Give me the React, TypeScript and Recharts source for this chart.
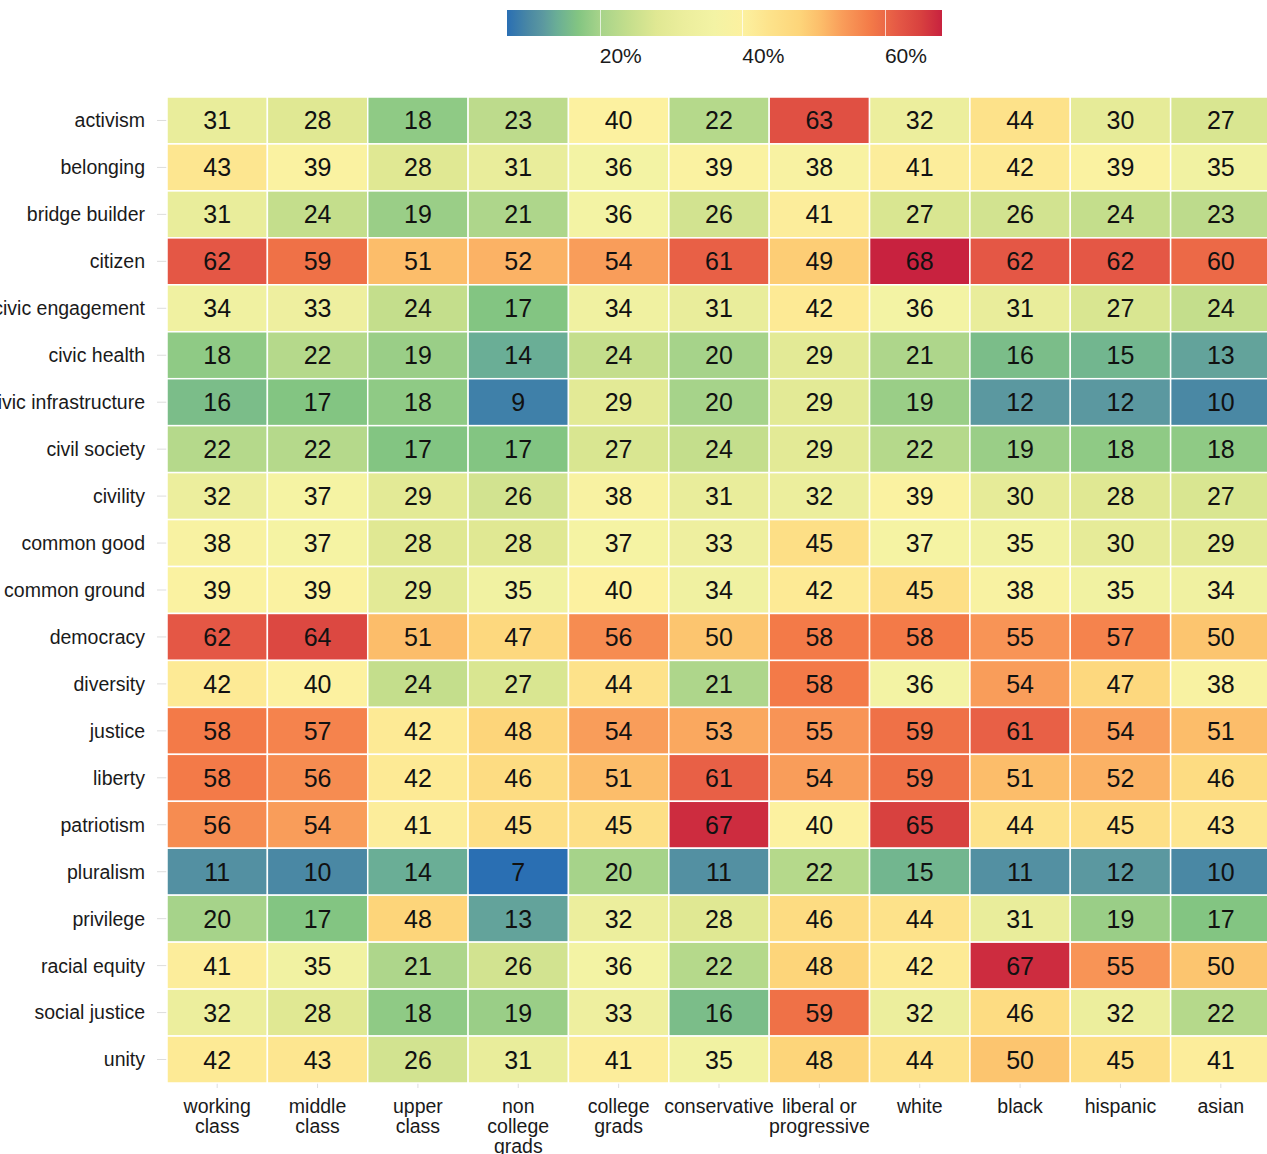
import React from "react";
import { ScatterChart, Scatter, XAxis, YAxis } from "recharts";

const terms = [
  "activism", "belonging", "bridge builder", "citizen", "civic engagement",
  "civic health", "civic infrastructure", "civil society", "civility",
  "common good", "common ground", "democracy", "diversity", "justice",
  "liberty", "patriotism", "pluralism", "privilege", "racial equity",
  "social justice", "unity",
];

const groups = [
  "working\nclass", "middle\nclass", "upper\nclass", "non\ncollege\ngrads",
  "college\ngrads", "conservative", "liberal or\nprogressive", "white",
  "black", "hispanic", "asian",
];

// percentage per term (row) and group (column)
const values = [
  [31, 28, 18, 23, 40, 22, 63, 32, 44, 30, 27],
  [43, 39, 28, 31, 36, 39, 38, 41, 42, 39, 35],
  [31, 24, 19, 21, 36, 26, 41, 27, 26, 24, 23],
  [62, 59, 51, 52, 54, 61, 49, 68, 62, 62, 60],
  [34, 33, 24, 17, 34, 31, 42, 36, 31, 27, 24],
  [18, 22, 19, 14, 24, 20, 29, 21, 16, 15, 13],
  [16, 17, 18, 9, 29, 20, 29, 19, 12, 12, 10],
  [22, 22, 17, 17, 27, 24, 29, 22, 19, 18, 18],
  [32, 37, 29, 26, 38, 31, 32, 39, 30, 28, 27],
  [38, 37, 28, 28, 37, 33, 45, 37, 35, 30, 29],
  [39, 39, 29, 35, 40, 34, 42, 45, 38, 35, 34],
  [62, 64, 51, 47, 56, 50, 58, 58, 55, 57, 50],
  [42, 40, 24, 27, 44, 21, 58, 36, 54, 47, 38],
  [58, 57, 42, 48, 54, 53, 55, 59, 61, 54, 51],
  [58, 56, 42, 46, 51, 61, 54, 59, 51, 52, 46],
  [56, 54, 41, 45, 45, 67, 40, 65, 44, 45, 43],
  [11, 10, 14, 7, 20, 11, 22, 15, 11, 12, 10],
  [20, 17, 48, 13, 32, 28, 46, 44, 31, 19, 17],
  [41, 35, 21, 26, 36, 22, 48, 42, 67, 55, 50],
  [32, 28, 18, 19, 33, 16, 59, 32, 46, 32, 22],
  [42, 43, 26, 31, 41, 35, 48, 44, 50, 45, 41],
];

const legendTicks = [20, 40, 60];
const MIN = 7;
const MAX = 68;

const STOPS: [number, string][] = [
  [7, "#2a6fb3"], [10, "#4a88a4"], [12, "#5b98a0"], [14, "#6aae96"],
  [17, "#83c582"], [20, "#a6d38a"], [24, "#c4de8c"], [28, "#e0e893"],
  [32, "#ecee9d"], [36, "#f3f3a4"], [40, "#fcf1a0"], [44, "#fde28a"],
  [48, "#fdd57a"], [51, "#fcbd6a"], [54, "#f99d5a"], [58, "#f37a48"],
  [62, "#e45745"], [65, "#d8413f"], [68, "#c8223f"],
];

const hex = (h: string) => [1, 3, 5].map((i) => parseInt(h.slice(i, i + 2), 16));

function colorFor(v: number) {
  for (let i = 1; i < STOPS.length; i++) {
    const [v1, c1] = STOPS[i];
    const [v0, c0] = STOPS[i - 1];
    if (v <= v1) {
      const t = (v - v0) / (v1 - v0);
      const a = hex(c0);
      const b = hex(c1);
      const c = a.map((x, k) => Math.round(x + (b[k] - x) * t));
      return `rgb(${c[0]},${c[1]},${c[2]})`;
    }
  }
  return STOPS[STOPS.length - 1][1];
}

const W = 1267;
const H = 1154;
const CHART_W = 1271; // last column runs past the page edge in the original
const LEFT = 167;
const TOP = 97;
const BOTTOM = 71;
const CELL_W = (CHART_W - LEFT) / groups.length;
const CELL_H = (H - TOP - BOTTOM) / terms.length;
const FONT = "'Liberation Sans', Arial, Helvetica, sans-serif";

const cells = values.flatMap((row, r) =>
  row.map((v, c) => ({ col: c + 0.5, row: r + 0.5, value: v }))
);

const HeatCell = (props: any) => {
  const { cx, cy, payload } = props;
  if (cx == null || cy == null) return null;
  return (
    <g>
      <rect
        x={cx - CELL_W / 2}
        y={cy - CELL_H / 2}
        width={CELL_W}
        height={CELL_H}
        fill={colorFor(payload.value)}
        stroke="#ffffff"
        strokeWidth={1.5}
      />
      <text
        x={cx}
        y={cy}
        textAnchor="middle"
        dominantBaseline="central"
        fontSize={25}
        fill="#111"
        fontFamily={FONT}
      >
        {payload.value}
      </text>
    </g>
  );
};

const GroupTick = (props: any) => {
  const { x, y, payload } = props;
  const lines = groups[Math.floor(payload.value)].split("\n");
  return (
    <text x={x} y={y + 23} textAnchor="middle" fontSize={19.5} fill="#1a1a1a" fontFamily={FONT}>
      {lines.map((l, i) => (
        <tspan key={i} x={x} dy={i === 0 ? 0 : 20}>
          {l}
        </tspan>
      ))}
    </text>
  );
};

const EmptyTick = () => <g />;

const colTicks = groups.map((_, i) => i + 0.5);
const rowTicks = terms.map((_, i) => i + 0.5);

function ColorBar() {
  const left = 507;
  const width = 435;
  const pos = (v: number) => ((v - MIN) / (MAX - MIN)) * 100;
  const gradient = STOPS.map(([v, c]) => `${c} ${pos(v)}%`).join(", ");
  return (
    <div style={{ position: "absolute", left, top: 10, width, height: 60, zIndex: 2 }}>
      <div
        style={{
          position: "absolute",
          left: 0,
          top: 0,
          width,
          height: 26,
          background: `linear-gradient(to right, ${gradient})`,
        }}
      />
      {legendTicks.map((t) => (
        <React.Fragment key={t}>
          <div
            style={{
              position: "absolute",
              left: (pos(t) / 100) * width,
              top: 0,
              width: 1,
              height: 26,
              background: "rgba(255,255,255,0.7)",
            }}
          />
          <div
            style={{
              position: "absolute",
              left: (pos(t) / 100) * width,
              top: 34,
              fontSize: 21,
              color: "#1a1a1a",
              fontFamily: FONT,
              lineHeight: "24px",
              whiteSpace: "nowrap",
            }}
          >
            {t}%
          </div>
        </React.Fragment>
      ))}
    </div>
  );
}

export default function App() {
  return (
    <div
      style={{
        position: "fixed",
        left: 0,
        top: 0,
        width: W,
        height: H,
        background: "#fff",
        overflow: "hidden",
      }}
    >
      <ColorBar />
      <ScatterChart width={CHART_W} height={H} margin={{ top: TOP - 30, right: 0, bottom: 0, left: 0 }}>
        <XAxis
          xAxisId="top"
          orientation="top"
          type="number"
          dataKey="col"
          domain={[0, groups.length]}
          ticks={colTicks}
          interval={0}
          height={30}
          axisLine={false}
          tickSize={5}
          tickLine={{ stroke: "#dddddd" }}
          tick={<EmptyTick />}
        />
        <XAxis
          xAxisId="bottom"
          orientation="bottom"
          type="number"
          dataKey="col"
          domain={[0, groups.length]}
          ticks={colTicks}
          interval={0}
          height={BOTTOM}
          axisLine={false}
          tickSize={5}
          tickLine={{ stroke: "#dddddd" }}
          tick={<GroupTick />}
        />
        <YAxis
          type="number"
          dataKey="row"
          domain={[0, terms.length]}
          reversed
          ticks={rowTicks}
          interval={0}
          width={LEFT}
          axisLine={false}
          tickSize={10}
          tickMargin={12}
          tickLine={{ stroke: "#dddddd" }}
          tick={{ fontSize: 19.5, fill: "#1a1a1a", fontFamily: FONT }}
          tickFormatter={(v: number) => terms[Math.floor(v)]}
        />
        <Scatter
          xAxisId="bottom"
          data={cells}
          shape={<HeatCell />}
          isAnimationActive={false}
        />
      </ScatterChart>
    </div>
  );
}
